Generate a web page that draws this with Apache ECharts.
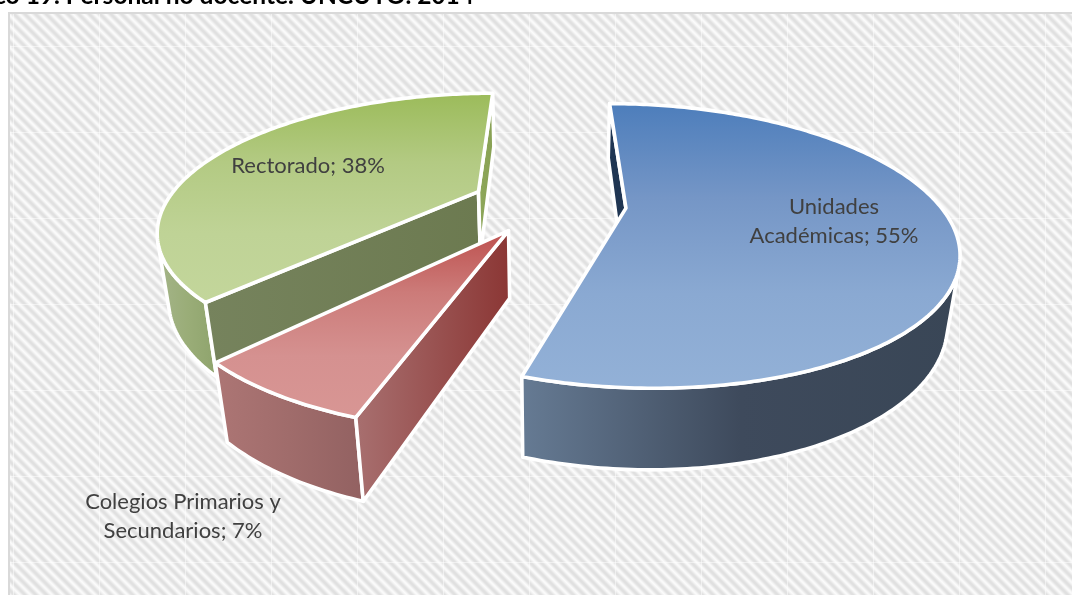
<!DOCTYPE html>
<html>
<head>
<meta charset="utf-8">
<style>html,body{margin:0;padding:0;background:#fff}#chart{width:1072px;height:595px}</style>
<script src="https://cdn.jsdelivr.net/npm/echarts@6/dist/echarts.min.js"></script>
</head>
<body>
<div id="chart"></div>
<script>
const titleText = 'Gráfico 19. Personal no docente. UNCUYO. 2014';
const categories = ['Unidades Académicas', 'Colegios Primarios y Secundarios', 'Rectorado'];
const shares = [55, 7, 38];

// Fill colours per slice: top face, outer wall, the two cut walls.
const topColors = [
  ['#4c7dbb', '#7596c6', '#8aa9d2', '#93b1d7'],
  ['#bd4f4d', '#cc7b79', '#d59190', '#d89694'],
  ['#9bbb59', '#b3ca83', '#bfd396', '#c3d69b']
];
const wallColors = [['#667b94', '#3e4a5c', '#394656'], ['#ad7675', '#a06c6b', '#926161'], ['#a5b58a', '#9aad78', '#8ea36c']];
const startWallColors = [['#1f3552', '#1f3552'], ['#a87070', '#8b3634'], ['#76835d', '#6c7a50']];
const endWallColors = [['#1f3552', '#1f3552'], ['#8b3634', '#8b3634'], ['#8fa85c', '#87a052']];

// Pinhole camera looking down on the exploded pie, with the radius as unit length.
const cam = { cx: 548, cy: 203, f: 1081, dist: 3.46, tilt: 24.5 * Math.PI / 180 };
const explode = [0.25, 0.235, 0.245];
const thickness = 0.235;
const sinT = Math.sin(cam.tilt), cosT = Math.cos(cam.tilt);
const eye = [0, -cam.dist * cosT, cam.dist * sinT];

function project(x, y, z) {
  const yc = y * sinT + z * cosT;
  const zc = cam.dist + y * cosT - z * sinT;
  return [cam.cx + cam.f * x / zc, cam.cy - cam.f * yc / zc];
}

const labelFont = '22px Lato, "Open Sans", sans-serif';
const labelLines = [['Unidades', 'Académicas; '], ['Colegios Primarios y', 'Secundarios; '], ['Rectorado; ']];
const labelAnchors = [[834, 221], [183, 516], [308, 166]];

function vertical(c) {
  return new echarts.graphic.LinearGradient(0, 0, 0, 1, c.map((color, i) => ({ offset: i / (c.length - 1), color })));
}
function horizontal(c) {
  return new echarts.graphic.LinearGradient(0, 0, 1, 0, c.map((color, i) => ({ offset: i / (c.length - 1), color })));
}
function face(points, fill, z2) {
  return {
    type: 'polygon', z2,
    shape: { points },
    style: { fill, stroke: '#fff', lineWidth: 3.6, lineJoin: 'round' }
  };
}

function renderSlice(params, api) {
  const i = params.dataIndex;
  const total = shares.reduce((a, b) => a + b, 0);
  const before = shares.slice(0, i).reduce((a, b) => a + b, 0);
  const a0 = before / total * 2 * Math.PI;
  const a1 = (before + api.value(0)) / total * 2 * Math.PI;
  const mid = (a0 + a1) / 2;
  const ox = explode[i] * Math.sin(mid), oy = explode[i] * Math.cos(mid);
  const rim = (a, z) => project(ox + Math.sin(a), oy + Math.cos(a), z);
  const rank = 10 + Math.round(-Math.cos(mid) * 4) * 10;

  const angles = [];
  const steps = Math.ceil((a1 - a0) / 0.015);
  for (let k = 0; k <= steps; k++) angles.push(a0 + (a1 - a0) * k / steps);

  const faces = [];
  // Outer wall: only the part of the rim that turns towards the eye.
  const seen = angles.filter(a => {
    const px = ox + Math.sin(a), py = oy + Math.cos(a);
    return Math.sin(a) * (eye[0] - px) + Math.cos(a) * (eye[1] - py) > 0;
  });
  if (seen.length > 1) {
    const pts = seen.map(a => rim(a, 0)).concat(seen.slice().reverse().map(a => rim(a, -thickness)));
    faces.push(face(pts, horizontal(wallColors[i]), rank + 1));
  }
  // Flat cut walls, culled by which side of the plane the eye is on.
  const cut = (a, sign, colors) => {
    const nx = sign * Math.cos(a), ny = -sign * Math.sin(a);
    if (nx * (eye[0] - ox) + ny * (eye[1] - oy) <= 0) return;
    faces.push(face([
      project(ox, oy, 0), rim(a, 0), rim(a, -thickness), project(ox, oy, -thickness)
    ], horizontal(colors), rank + 2));
  };
  cut(a0, -1, startWallColors[i]);
  cut(a1, 1, endWallColors[i]);
  // Top face.
  faces.push(face([project(ox, oy, 0)].concat(angles.map(a => rim(a, 0))), vertical(topColors[i]), rank + 3));

  const pct = Math.round(api.value(0) / total * 100) + '%';
  const lines = labelLines[i].slice();
  lines[lines.length - 1] += pct;
  faces.push({
    type: 'text', z2: 100,
    style: {
      text: lines.join('\n'),
      x: labelAnchors[i][0], y: labelAnchors[i][1],
      align: 'center', verticalAlign: 'middle',
      font: labelFont, lineHeight: 29, fill: '#404040'
    }
  });
  return { type: 'group', children: faces };
}

// Repeating soft hatch tile with its faint lighter seams.
function hatchTile() {
  const size = 86, period = size / 8;
  const c = document.createElement('canvas');
  c.width = c.height = size;
  const g = c.getContext('2d');
  g.fillStyle = '#fff';
  g.fillRect(0, 0, size, size);
  g.filter = 'blur(1px)';
  g.strokeStyle = '#dedede';
  g.lineWidth = 4.2;
  for (let k = -16; k <= 16; k++) {
    g.beginPath();
    g.moveTo(k * period - 20, -20);
    g.lineTo(k * period + size + 20, size + 20);
    g.stroke();
  }
  g.filter = 'none';
  g.fillStyle = 'rgba(255,255,255,0.5)';
  g.fillRect(13, 0, 1, size);
  g.fillRect(0, 46, size, 1);
  return c;
}

const chart = echarts.init(document.getElementById('chart'), null, { renderer: 'canvas' });
chart.setOption({
  animation: false,
  backgroundColor: '#fff',
  graphic: [
    {
      type: 'rect', z: -10, silent: true,
      shape: { x: 9, y: 13, width: 1080, height: 600 },
      style: { fill: { image: hatchTile(), repeat: 'repeat' }, stroke: '#d9d9d9', lineWidth: 2 }
    },
    {
      type: 'text', z: 10, silent: true,
      style: {
        text: titleText, x: 474, y: -3.5,
        align: 'right', verticalAlign: 'middle',
        font: 'bold 24.5px Lato, "Open Sans", sans-serif', fill: '#000'
      }
    }
  ],
  series: [{
    type: 'custom',
    coordinateSystem: 'none',
    renderItem: renderSlice,
    data: shares.map((v, i) => ({ name: categories[i], value: [v] })),
    silent: true
  }]
});
</script>
</body>
</html>
